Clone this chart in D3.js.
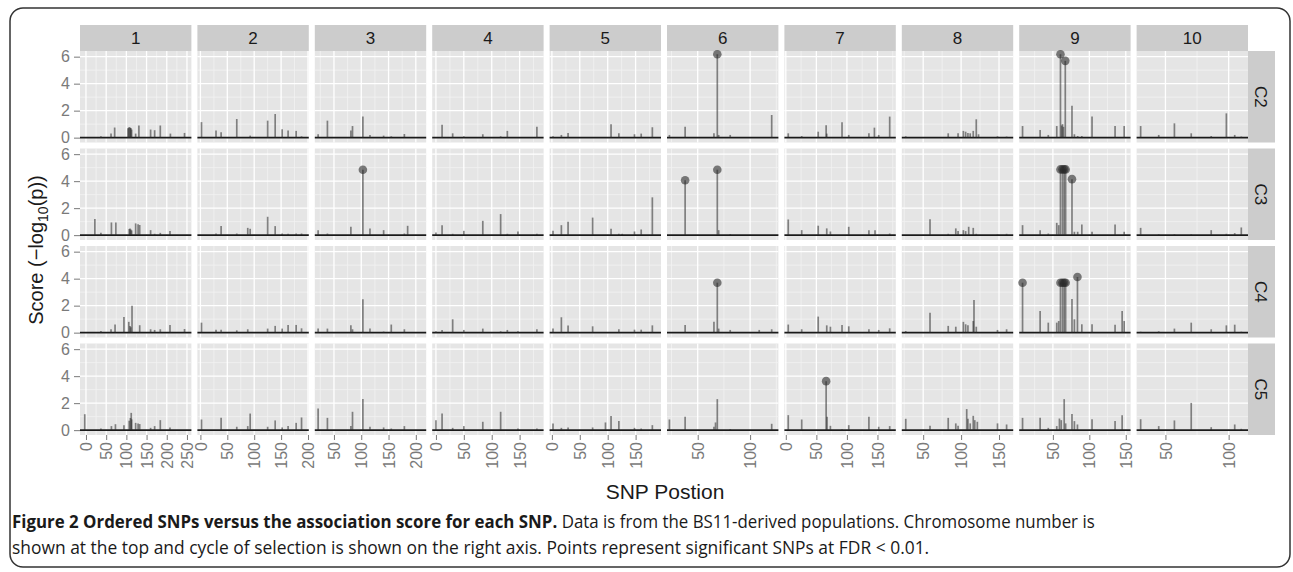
<!DOCTYPE html>
<html>
<head>
<meta charset="utf-8">
<script src="https://cdn.jsdelivr.net/npm/d3@7"></script>
<style>
  html, body { margin: 0; padding: 0; background: #ffffff; }
  svg { display: block; }
</style>
</head>
<body>
<script>
// ---------------- DATA ----------------
const chromosomes = ["1", "2", "3", "4", "5", "6", "7", "8", "9", "10"];
const cycles = ["C2", "C3", "C4", "C5"];
const yTicks = [0, 2, 4, 6];
const yDomain = [-0.36, 6.42];
// x extent (cM) shown for each chromosome panel
const xDomains = [[-14.8, 261], [-5.6, 201.5], [14.9, 219], [-6.7, 193], [-4.1, 195.5],
                  [20.7, 127], [-2.3, 180], [21.8, 168.7], [3.8, 156.6], [27.2, 115.3]];
const xTicks = [[0, 50, 100, 150, 200, 250], [0, 50, 100, 150, 200], [50, 100, 150, 200],
                [0, 50, 100, 150], [0, 50, 100, 150], [50, 100], [0, 50, 100, 150],
                [50, 100, 150], [50, 100, 150], [50, 100]];
const xTitle = "SNP Postion";

// [position, score, significant?] per chromosome, one array per selection cycle
const snpC2 = [
  [[37,0.1],[62,0.3],[71,0.75],[104,0.7],[106,0.75],[108,0.78],[110,0.72],[111,0.7],[113,0.6],[123,0.3],[131,0.9],[160,0.6],[170,0.55],[184,0.9],[209,0.3],[244,0.35]],
  [[2,1.15],[29,0.52],[38.5,0.4],[67.6,1.38],[92.5,0.15],[125,1.26],[139,1.75],[152,0.62],[163,0.52],[178,0.5],[188,0.1]],
  [[21,0.25],[38,1.26],[81,0.52],[84,0.86],[103,1.56],[116,0.2],[141,0.15],[155,0.1],[179,0.27]],
  [[11,0.96],[30,0.32],[50,0.1],[84,0.25],[116,0.1],[128,0.5],[181,0.8]],
  [[2,0.1],[17,0.2],[29,0.35],[106,1.0],[120,0.32],[148,0.25],[160,0.3],[180,0.77]],
  [[23,0.2],[38,0.8],[65.5,0.32],[68.7,6.18,1],[70,0.2],[81,0.2],[120.6,1.68]],
  [[4,0.32],[26,0.12],[53,0.44],[66,0.91],[67,0.3],[92,1.14],[103,0.2],[136,0.32],[145,0.74],[152,0.2],[170,1.56]],
  [[27,0.1],[83,0.32],[96,0.32],[103,0.5],[106,0.44],[109,0.35],[112,0.32],[116,0.5],[120,1.36],[123,0.25],[148,0.1],[160,0.08]],
  [[8.4,0.86],[32.5,0.57],[43.7,0.2],[55.3,0.86],[60.4,6.18,1],[62,0.9],[63.2,1.0],[64.5,0.8],[67,5.69,1],[76.2,2.37],[79.5,0.25],[84,0.12],[89.7,0.12],[103.7,1.56],[135.3,0.86],[147.8,0.86]],
  [[30.4,0.86],[44.7,0.2],[57.1,1.06],[70.4,0.32],[86.2,0.12],[98.2,1.8],[104.8,0.2],[110,0.08]]
];
const snpC3 = [
  [[22,1.2],[37,0.17],[63,0.94],[74,0.94],[107,0.45],[109,0.5],[111,0.42],[113,0.35],[123,0.87],[129,0.8],[133,0.75],[160,0.37],[170,0.1],[184,0.17],[208,0.3]],
  [[29,0.12],[38.5,0.67],[67.6,0.12],[88,0.54],[92.5,0.47],[125,1.36],[139,0.67],[152,0.12],[163,0.1],[178,0.12],[188,0.12]],
  [[21,0.37],[38,0.12],[81,0.62],[103,4.85,1],[116,0.5],[141,0.37],[179,0.12],[185,0.69]],
  [[0,0.2],[11,0.74],[30,0.1],[50,0.32],[84,1.06],[116,1.56],[128,0.1],[147,0.27],[181,0.1]],
  [[2,0.32],[17,0.74],[29,1.0],[73,1.3],[106,0.47],[120,0.1],[126,0.1],[148,0.27],[160,0.42],[180,2.8]],
  [[38,4.07,1],[68.7,4.85,1],[70,0.37],[81,0.08]],
  [[4,1.16],[26,0.37],[53,0.7],[67,0.5],[73,0.27],[103,0.62],[136,0.37],[146,0.37],[170,0.12]],
  [[59,1.18],[83,0.1],[93,0.5],[96,0.3],[103,0.37],[106,0.3],[110,0.62],[116,0.54],[120,0.1],[148,0.05],[160,0.1]],
  [[8.4,0.74],[32.5,0.37],[43.7,0.12],[55.3,0.91],[58,0.74],[60.4,4.87,1],[63.2,4.87,1],[65.5,4.87,1],[67.5,4.87,1],[76.2,4.15,1],[79.5,0.25],[84,0.25],[89.7,0.79],[103.7,0.25],[135.3,0.79],[147.8,0.25]],
  [[30.4,0.54],[44.7,0.07],[57.1,0.07],[70.4,0.07],[86.2,0.37],[98.2,0.1],[104.8,0.15],[110,0.57]]
];
const snpC4 = [
  [[37,0.12],[62,0.25],[72,0.6],[94,1.16],[106,0.8],[109,0.5],[111,0.4],[114,2.0],[133,0.55],[160,0.25],[170,0.2],[184,0.25],[208,0.57],[244,0.27]],
  [[2,0.74],[29,0.22],[38.5,0.22],[67.6,0.17],[88,0.25],[125,0.3],[139,0.5],[152,0.3],[163,0.57],[178,0.57],[188,0.32]],
  [[21,0.3],[38,0.3],[81,0.54],[84,0.25],[103,2.47],[116,0.3],[141,0.08],[155,0.6],[179,0.25]],
  [[0,0.1],[11,0.2],[30,0.99],[50,0.2],[84,0.3],[116,0.1],[128,0.2],[147,0.1],[181,0.25]],
  [[2,0.3],[17,1.14],[29,0.52],[73,0.47],[120,0.25],[148,0.22],[160,0.22],[180,0.54]],
  [[38,0.57],[65.5,0.8],[68.7,3.7,1],[70,0.3],[81,0.2],[108.7,0.2],[120.6,0.25]],
  [[4,0.6],[26,0.25],[53,1.19],[67,0.54],[73,0.44],[92,0.57],[103,0.47],[136,0.25],[152,0.2],[170,0.32]],
  [[27,0.12],[59,1.48],[83,0.5],[93,0.44],[103,0.8],[106,0.62],[109,0.54],[116,0.86],[117,2.42],[120,0.44],[148,0.2],[160,0.25]],
  [[8.4,3.7,1],[32.5,1.6],[43.7,0.74],[55.3,0.74],[58,0.86],[60.4,3.7,1],[63.2,3.7,1],[65.5,3.7,1],[67.5,3.7,1],[76.2,2.5],[79.5,0.99],[83.7,4.12,1],[89.7,0.62],[103.7,0.62],[135.3,0.59],[145,1.6],[147.8,0.86]],
  [[30.4,0.07],[44.7,0.1],[57.1,0.3],[70.4,0.74],[86.2,0.25],[98.2,0.54],[104.8,0.59],[110,0.07]]
];
const snpC5 = [
  [[-3,1.18],[37,0.12],[63,0.3],[73,0.44],[94,0.37],[107,0.7],[110,0.9],[112,1.28],[113,0.8],[123,0.54],[129,0.5],[133,0.45],[160,0.17],[170,0.3],[184,0.74],[208,0.2]],
  [[2,0.79],[38.5,0.91],[67.6,0.25],[88,0.3],[92.5,1.23],[125,0.25],[139,0.72],[152,0.2],[163,0.3],[178,0.54],[188,0.94]],
  [[21,1.6],[38,0.91],[81,0.3],[84,1.36],[103,2.3],[116,0.25],[141,0.2],[155,0.12],[179,0.3]],
  [[0,0.74],[11,1.23],[30,0.17],[50,0.3],[84,0.62],[116,1.36],[147,0.12],[181,0.12]],
  [[2,0.5],[17,0.17],[29,0.2],[73,0.2],[96,0.57],[106,1.04],[120,0.67],[148,0.17],[160,0.12],[180,0.37]],
  [[23,0.79],[38,0.99],[65.5,0.25],[67,0.57],[68.7,2.3],[81,0.08],[120.6,0.47]],
  [[4,1.11],[26,0.79],[66,3.63,1],[67.5,0.99],[73,0.32],[92,0.07],[103,0.37],[136,0.99],[152,0.25],[170,0.3]],
  [[27,0.84],[59,0.32],[83,0.91],[93,0.5],[96,0.32],[107.4,1.56],[109,0.85],[112,0.5],[116,1.06],[118,0.74],[121.4,0.62],[148,0.5],[160,0.42]],
  [[8.4,0.91],[32.5,0.91],[43.7,0.17],[55.3,0.3],[59,0.86],[61.5,0.74],[65.5,2.3],[67.5,0.5],[76.2,1.19],[79.5,0.67],[83.7,0.42],[103.7,0.81],[135.3,0.67],[145,1.11]],
  [[30.4,0.81],[44.7,0.3],[57.1,0.72],[70.4,2.02],[86.2,0.22],[104.8,0.42],[110,0.1]]
];
const snpByCycle = [snpC2, snpC3, snpC4, snpC5];

const captionBold = "Figure 2 Ordered SNPs versus the association score for each SNP.";
const captionLine1 = " Data is from the BS11-derived populations. Chromosome number is";
const captionLine2 = "shown at the top and cycle of selection is shown on the right axis. Points represent significant SNPs at FDR < 0.01.";

// ---------------- LAYOUT ----------------
const W = 1293, H = 572;
const panelsLeft = 80, panelsTop = 51, gap = 6;
const pw = (1248 - panelsLeft - 9 * gap) / 10;
const ph = (435 - panelsTop - 3 * gap) / 4;
const stripH = 26, stripW = 27;
const tickCol = "#7a7a7a";

const svg = d3.select("body").append("svg").attr("width", W).attr("height", H)
  .style("font-family", "'Liberation Sans', Arial, sans-serif");

// figure frame
svg.append("rect").attr("x", 10).attr("y", 8).attr("width", 1280).attr("height", 559)
  .attr("rx", 13).attr("fill", "none").attr("stroke", "#333").attr("stroke-width", 1.5);

const y = d3.scaleLinear().domain(yDomain).range([ph, 0]);
const yMinor = [1, 3, 5];

function minorBreaks(ticks, dom) {
  const step = ticks.length > 1 ? ticks[1] - ticks[0] : 50;
  const out = [];
  for (let v = ticks[0] - step / 2; v <= ticks[ticks.length - 1] + step / 2 + 1e-9; v += step) {
    if (v >= dom[0] && v <= dom[1]) out.push(v);
  }
  return out;
}

chromosomes.forEach((chr, c) => {
  const gx = panelsLeft + c * (pw + gap);
  const x = d3.scaleLinear().domain(xDomains[c]).range([0, pw]);
  const minors = minorBreaks(xTicks[c], xDomains[c]);

  // top strip
  svg.append("rect").attr("x", gx).attr("y", panelsTop - stripH).attr("width", pw).attr("height", stripH)
    .attr("fill", "#cccccc");
  svg.append("text").attr("x", gx + pw / 2).attr("y", panelsTop - stripH / 2).attr("dy", "0.36em")
    .attr("text-anchor", "middle").attr("font-size", 17).attr("fill", "#1a1a1a").text(chr);

  cycles.forEach((cyc, r) => {
    const gy = panelsTop + r * (ph + gap);
    const g = svg.append("g").attr("transform", `translate(${gx},${gy})`);
    g.append("rect").attr("width", pw).attr("height", ph).attr("fill", "#e5e5e5");
    // minor grid
    g.selectAll(".mx").data(minors).enter().append("line")
      .attr("x1", d => x(d)).attr("x2", d => x(d)).attr("y1", 0).attr("y2", ph)
      .attr("stroke", "#f2f2f2").attr("stroke-width", 0.8);
    g.selectAll(".my").data(yMinor).enter().append("line")
      .attr("x1", 0).attr("x2", pw).attr("y1", d => y(d)).attr("y2", d => y(d))
      .attr("stroke", "#f2f2f2").attr("stroke-width", 0.8);
    // major grid
    g.selectAll(".Mx").data(xTicks[c]).enter().append("line")
      .attr("x1", d => x(d)).attr("x2", d => x(d)).attr("y1", 0).attr("y2", ph)
      .attr("stroke", "#ffffff").attr("stroke-width", 1.3);
    g.selectAll(".My").data(yTicks).enter().append("line")
      .attr("x1", 0).attr("x2", pw).attr("y1", d => y(d)).attr("y2", d => y(d))
      .attr("stroke", "#ffffff").attr("stroke-width", 1.3);

    // baseline
    g.append("line").attr("x1", 0).attr("x2", pw).attr("y1", y(0)).attr("y2", y(0))
      .attr("stroke", "#1a1a1a").attr("stroke-width", 1.8);

    const data = snpByCycle[r][c];
    g.selectAll(".seg").data(data).enter().append("line")
      .attr("x1", d => x(d[0])).attr("x2", d => x(d[0]))
      .attr("y1", y(0)).attr("y2", d => y(d[1]))
      .attr("stroke", "#2a2a2a").attr("stroke-opacity", 0.55).attr("stroke-width", 1.7);
    g.selectAll(".pt").data(data.filter(d => d[2])).enter().append("circle")
      .attr("cx", d => x(d[0])).attr("cy", d => y(d[1])).attr("r", 4.3)
      .attr("fill", "#2a2a2a").attr("fill-opacity", 0.6);

    // right strip
    if (c === chromosomes.length - 1) {
      svg.append("rect").attr("x", gx + pw).attr("y", gy).attr("width", stripW).attr("height", ph)
        .attr("fill", "#cccccc");
      svg.append("text").attr("transform", `translate(${gx + pw + stripW / 2},${gy + ph / 2}) rotate(90)`)
        .attr("dy", "0.36em").attr("text-anchor", "middle").attr("font-size", 17)
        .attr("fill", "#1a1a1a").text(cyc);
    }
    // y axis
    if (c === 0) {
      const ax = g.append("g").call(d3.axisLeft(y).tickValues(yTicks).tickSize(6).tickPadding(4)
        .tickFormat(d3.format("d")));
      ax.select(".domain").remove();
      ax.selectAll("line").attr("stroke", tickCol).attr("stroke-width", 1);
      ax.selectAll("text").attr("fill", tickCol).attr("font-size", 16)
        .attr("font-family", "'Liberation Sans', Arial, sans-serif");
    }
    // x axis
    if (r === cycles.length - 1) {
      const ax = g.append("g").attr("transform", `translate(0,${ph})`)
        .call(d3.axisBottom(x).tickValues(xTicks[c]).tickSize(5).tickPadding(3).tickFormat(d3.format("d")));
      ax.select(".domain").remove();
      ax.selectAll("line").attr("stroke", tickCol).attr("stroke-width", 1);
      ax.selectAll("text").attr("fill", tickCol).attr("font-size", 16)
        .attr("font-family", "'Liberation Sans', Arial, sans-serif")
        .attr("transform", "rotate(-90)").attr("x", -7).attr("y", 0).attr("dy", "0.35em")
        .attr("text-anchor", "end");
    }
  });
});

// axis titles
svg.append("text").attr("x", 665).attr("y", 499).attr("text-anchor", "middle")
  .attr("font-size", 21).attr("fill", "#1a1a1a").text(xTitle);

const yt = svg.append("text").attr("transform", "translate(43,250) rotate(-90)")
  .attr("text-anchor", "middle").attr("font-size", 20).attr("fill", "#1a1a1a");
yt.append("tspan").text("Score (\u2212log");
yt.append("tspan").attr("font-size", 14).attr("dy", 5).text("10");
yt.append("tspan").attr("dy", -5).text("(p))");

// caption
const capFont = "'Open Sans', 'Noto Sans', sans-serif";
const l1 = svg.append("text").attr("x", 12).attr("y", 528).attr("font-size", 17.5)
  .attr("font-family", capFont).attr("fill", "#1a1a1a");
l1.append("tspan").attr("font-weight", "bold").text(captionBold);
l1.append("tspan").text(captionLine1);
const l2 = svg.append("text").attr("x", 12).attr("y", 554).attr("font-size", 17.5)
  .attr("font-family", capFont).attr("fill", "#1a1a1a").text(captionLine2);

function fitWidth(sel, x0, target) {
  const w = sel.node().getComputedTextLength();
  if (w > 0) {
    const s = target / w;
    sel.attr("transform", `translate(${x0},0) scale(${s},1) translate(${-x0},0)`);
  }
}
fitWidth(l1, 12, 1083);
fitWidth(l2, 12, 918);
</script>
</body>
</html>
